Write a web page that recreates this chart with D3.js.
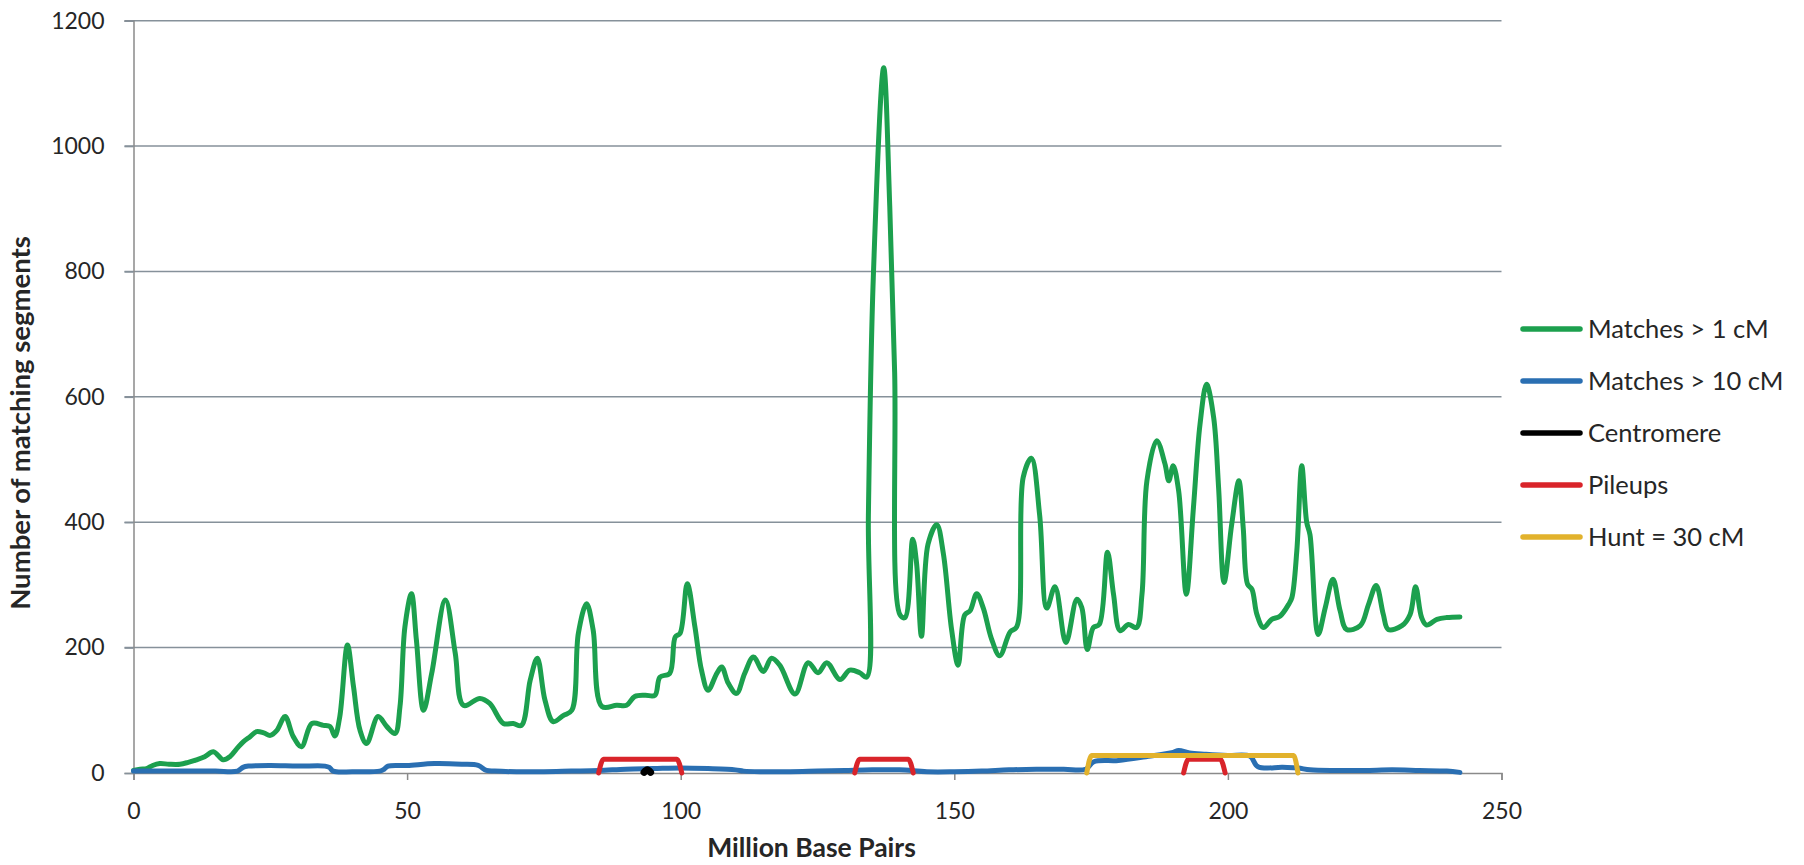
<!DOCTYPE html>
<html><head><meta charset="utf-8">
<script src="https://cdn.jsdelivr.net/npm/d3@7"></script>
<style>
body{margin:0;background:#fff}
svg{display:block}
text{font-family:Lato,"Open Sans",sans-serif;fill:#262626}
</style>
</head><body>
<svg id="chart" width="1804" height="865"></svg>
<script>
// ---- data ----
const xTicks = [0, 50, 100, 150, 200, 250];
const yTicks = [0, 200, 400, 600, 800, 1000, 1200];
const seriesNames = ["Matches > 1 cM", "Matches > 10 cM", "Centromere", "Pileups", "Hunt = 30 cM"];
const seriesColors = ["#1ca04e", "#2a6fb2", "#000000", "#d9242a", "#e2b22c"];

const greenX = [0,1.2,2.4,3.5,4.8,6.5,8.5,10,11.5,13,14.6,16.4,17.6,19,20.1,21.3,22.5,23.8,25,26.2,27.7,29.2,30.7,32.6,34.7,35.9,36.8,37.7,39.1,40.2,41.4,42.6,44.7,46.3,47.8,48.7,49.6,50.8,51.7,53,54.5,57,58.8,60.3,63.3,65.1,67.6,69.4,70.9,72.5,73.8,75.2,76.7,78.6,80.1,81.3,82.8,84.0,85.6,88.3,90.1,91.6,93.5,95.3,96.2,98.0,99.0,99.9,101.2,102.6,103.8,105.0,106.6,107.5,108.7,110.2,111.7,113.3,115.1,116.6,118.1,120.9,123.3,125.1,126.7,129.1,130.9,132.7,134.0,134.3,135.2,137.1,138.2,139.1,140.1,141.0,142.4,143.1,144.0,145.2,146.8,148.0,149.5,150.7,151.9,152.9,154.1,155.3,156.8,158.3,160.2,161.4,162.6,164.1,165.6,166.9,168.4,170.4,172.4,173.3,174.3,175.4,176.5,178.0,179.1,180.3,181.8,183.3,184.3,185.2,187.0,188.5,189.2,190.0,191.0,192.4,193.7,194.9,196.1,197.4,198.3,199.3,200.7,202.0,202.8,203.6,204.4,205.3,206.5,208.0,209.5,211.1,211.7,212.6,213.5,214.4,215.0,216.5,217.8,219.2,220.5,221.7,224.2,225.7,227.1,228.4,229.3,231.8,233.3,234.3,235.4,236.3,238.2,240.0,242.4];
const greenY = [4,6,7,12,15,14,14,17,21,26,34,21,26,40,50,58,66,64,60,68,90,58,42,79,76,74,59,90,204,138,68,47,90,74,63,106,233,286,212,100,159,276,191,108,119,111,79,79,76,148,183,116,82,92,100,223,270,228,106,108,108,122,124,124,153,159,217,223,302,233,164,132,159,169,143,127,159,185,162,183,172,126,176,160,176,149,164,160,153,411,791,1125,905,639,252,248,373,335,218,365,396,350,229,172,252,259,286,263,214,187,225,233,472,502,411,263,297,208,277,264,197,232,237,352,285,227,237,232,285,466,530,493,466,490,450,285,423,556,620,567,455,304,397,466,391,301,293,253,232,245,250,269,280,355,490,400,380,221,264,309,259,229,235,269,299,253,229,235,253,297,248,236,245,248,249];

const blueX = [0,5,10,15,19,20,21,25,30,35,35.8,36.5,40,45,45.8,46.5,50,55,60,63,64.5,66,70,75,80,85,90,95,100,105,110,111.5,115,120,125,130,135,140,145,150,155,160,165,170,174,175.5,180,185,190,191,193,196,200,204,205.5,210,212.8,215,220,225,230,235,240,242.4];
const blueY = [3,3,3,3,3,9,11,12,11,11,9,3,2,3,6,11,12,15,14,12,4,3,2,2,3,4,6,7,8,7,5,3,2,2,3,4,5,5,2,2,3,5,6,6,6,18,20,26,33,36,32,30,28,27,10,9,8,5,4,4,5,4,3,1];

const centX = [93.3, 93.9, 94.5];
const centY = [1, 5, 1];

const pileupX = [[85.0, 85.9, 99.3, 100.2], [131.8, 132.7, 141.6, 142.5], [191.9, 192.8, 198.6, 199.5]];
const pileupY = [[0, 22, 22, 0], [0, 22, 22, 0], [0, 22, 22, 0]];

const huntX = [174.2, 175.1, 212.0, 212.8];
const huntY = [0, 28, 28, 0];

// ---- chart ----
const svg = d3.select("#chart");
const x = d3.scaleLinear().domain([0, 250]).range([133.5, 1501.5]);
const y = d3.scaleLinear().domain([0, 1200]).range([773, 20.7]);
const zip = (xs, ys) => xs.map((v, i) => [v, ys[i]]);

// gridlines
svg.append("g").selectAll("line").data(yTicks.filter(d => d > 0)).join("line")
  .attr("x1", x(0) - 9).attr("x2", x(250))
  .attr("y1", d => y(d)).attr("y2", d => y(d))
  .attr("stroke", "#86919a").attr("stroke-width", 1.5);

// y axis
const yAxis = svg.append("g").attr("transform", `translate(${x(0)},0)`)
  .call(d3.axisLeft(y).tickValues(yTicks).tickSize(9).tickPadding(20).tickFormat(d3.format("d")));
yAxis.select(".domain").attr("stroke", "#8a8a8a").attr("stroke-width", 1.5);
yAxis.selectAll(".tick line").attr("stroke", "#86919a").attr("stroke-width", 1.5);
yAxis.selectAll(".tick text").attr("font-size", 23).attr("fill", "#262626").style("font-family", "Lato");

// x axis
const xAxis = svg.append("g").attr("transform", `translate(0,${y(0)})`)
  .call(d3.axisBottom(x).tickValues(xTicks).tickSize(7).tickPadding(23).tickFormat(d3.format("d")));
xAxis.select(".domain").attr("stroke", "#8a8a8a").attr("stroke-width", 1.5);
xAxis.selectAll(".tick line").attr("stroke", "#8a8a8a").attr("stroke-width", 1.5);
xAxis.selectAll(".tick text").attr("font-size", 23).attr("fill", "#262626").style("font-family", "Lato");

// titles
svg.append("text").attr("x", (x(0) + x(250)) / 2 - 6).attr("y", 857)
  .attr("text-anchor", "middle").attr("font-size", 26.5).attr("font-weight", "bold")
  .text("Million Base Pairs");
svg.append("text").attr("transform", `translate(30,423) rotate(-90)`)
  .attr("text-anchor", "middle").attr("font-size", 27.5).attr("font-weight", "bold")
  .text("Number of matching segments");

// lines
const smooth = d3.line().x(d => x(d[0])).y(d => y(d[1])).curve(d3.curveCatmullRom.alpha(0.5));
const boxy = d3.line().x(d => x(d[0])).y(d => y(d[1])).curve(d3.curveMonotoneX);
const plot = svg.append("g").attr("fill", "none").attr("stroke-linejoin", "round").attr("stroke-linecap", "round");

plot.append("path").attr("d", smooth(zip(greenX, greenY))).attr("stroke", seriesColors[0]).attr("stroke-width", 5);
plot.append("path").attr("d", smooth(zip(blueX, blueY))).attr("stroke", seriesColors[1]).attr("stroke-width", 5);
plot.append("path").attr("d", smooth(zip(centX, centY))).attr("stroke", seriesColors[2]).attr("stroke-width", 7);
pileupX.forEach((xs, i) => {
  plot.append("path").attr("d", boxy(zip(xs, pileupY[i]))).attr("stroke", seriesColors[3]).attr("stroke-width", 5);
});
plot.append("path").attr("d", boxy(zip(huntX, huntY))).attr("stroke", seriesColors[4]).attr("stroke-width", 5);

// legend
const leg = svg.append("g");
seriesNames.forEach((name, i) => {
  const cy = 329 + 52 * i;
  leg.append("line").attr("x1", 1523).attr("x2", 1580).attr("y1", cy).attr("y2", cy)
    .attr("stroke", seriesColors[i]).attr("stroke-width", 5.5).attr("stroke-linecap", "round");
  leg.append("text").attr("x", 1588).attr("y", cy).attr("dy", "0.36em")
    .attr("font-size", 25.5).text(name);
});
</script>
</body></html>
